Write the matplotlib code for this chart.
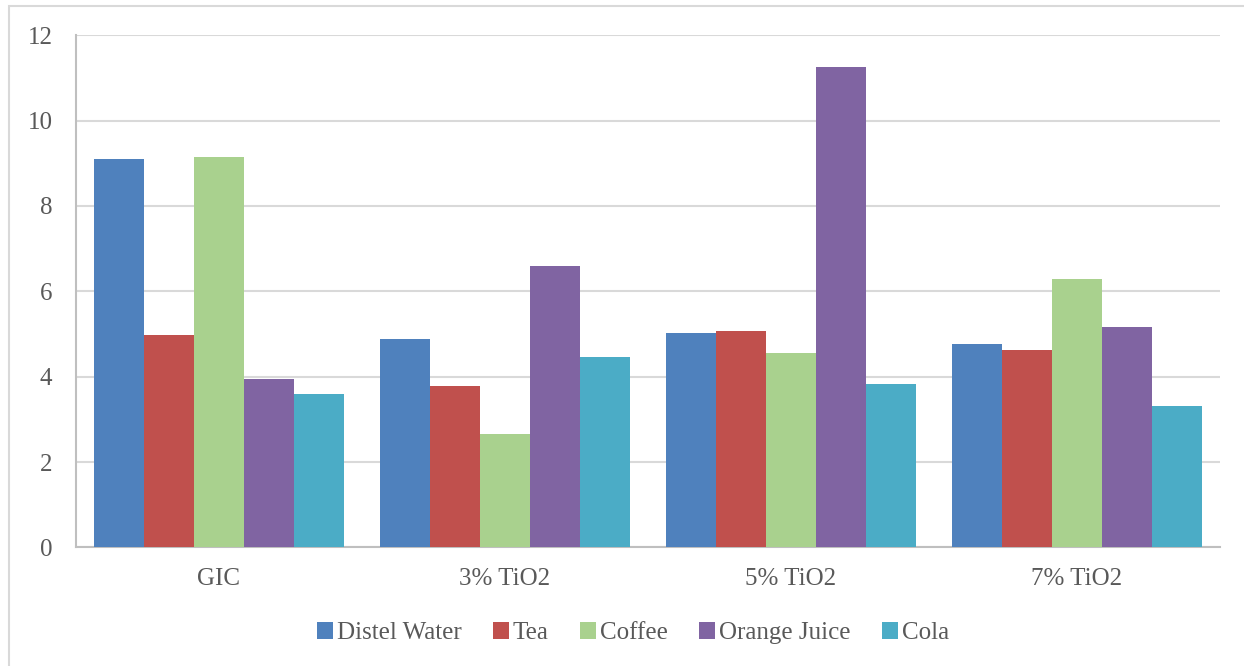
import matplotlib.pyplot as plt
import numpy as np
from matplotlib.patches import Rectangle

groups = ['GIC', '3% TiO2', '5% TiO2', '7% TiO2']
series = ['Distel Water', 'Tea', 'Coffee', 'Orange Juice', 'Cola']
distel_water = [9.11, 4.88, 5.03, 4.77]
tea = [4.98, 3.78, 5.07, 4.63]
coffee = [9.15, 2.66, 4.56, 6.29]
orange_juice = [3.95, 6.59, 11.25, 5.16]
cola = [3.60, 4.46, 3.83, 3.31]
colors = ['#4F81BD', '#C0504D', '#A9D18E', '#8064A2', '#4BACC6']

plt.rcParams['font.family'] = ['Liberation Serif', 'DejaVu Serif']
text_color = '#595959'

fig = plt.figure(figsize=(12.44, 6.66), dpi=100)
W, H = 1244, 666
ax = fig.add_axes([76 / W, (H - 547.4) / H, (1220 - 76) / W, (547.4 - 35.3) / H])

# chart border (runs off the right and bottom edges)
fig.patches.append(Rectangle((9 / W, -0.05), 1.1, (H - 6) / H + 0.05,
                             transform=fig.transFigure, fill=False,
                             edgecolor='#d9d9d9', linewidth=1.5))

x = np.arange(len(groups))
width = 50 / 286
values = [distel_water, tea, coffee, orange_juice, cola]
for i, (name, vals) in enumerate(zip(series, values)):
    ax.bar(x + (i - 2) * width, vals, width, color=colors[i], label=name,
           zorder=3)

ax.set_xlim(-0.5, len(groups) - 0.5)
ax.set_ylim(0, 12)
ax.set_yticks(range(0, 13, 2))
ax.set_xticks(x)
ax.set_xticklabels(groups)
ax.grid(axis='y', color='#d9d9d9', linewidth=1.5, zorder=0)
ax.tick_params(axis='y', length=0, pad=17, labelsize=18, labelcolor=text_color)
ax.tick_params(axis='x', length=0, pad=15, labelsize=18, labelcolor=text_color)
for side in ['top', 'right']:
    ax.spines[side].set_visible(False)
ax.spines['left'].set_color('#bfbfbf')
ax.spines['bottom'].set_color('#bfbfbf')
ax.spines['left'].set_linewidth(1.5)
ax.spines['bottom'].set_linewidth(1.5)

leg = fig.legend(loc='center', bbox_to_anchor=(633 / W, (H - 633) / H), ncol=5,
                 frameon=False, fontsize=18, handlelength=0.65, handleheight=0.65,
                 handletextpad=0.15, columnspacing=1.25)
for t in leg.get_texts():
    t.set_color(text_color)

fig.savefig('out.png', dpi=100)
